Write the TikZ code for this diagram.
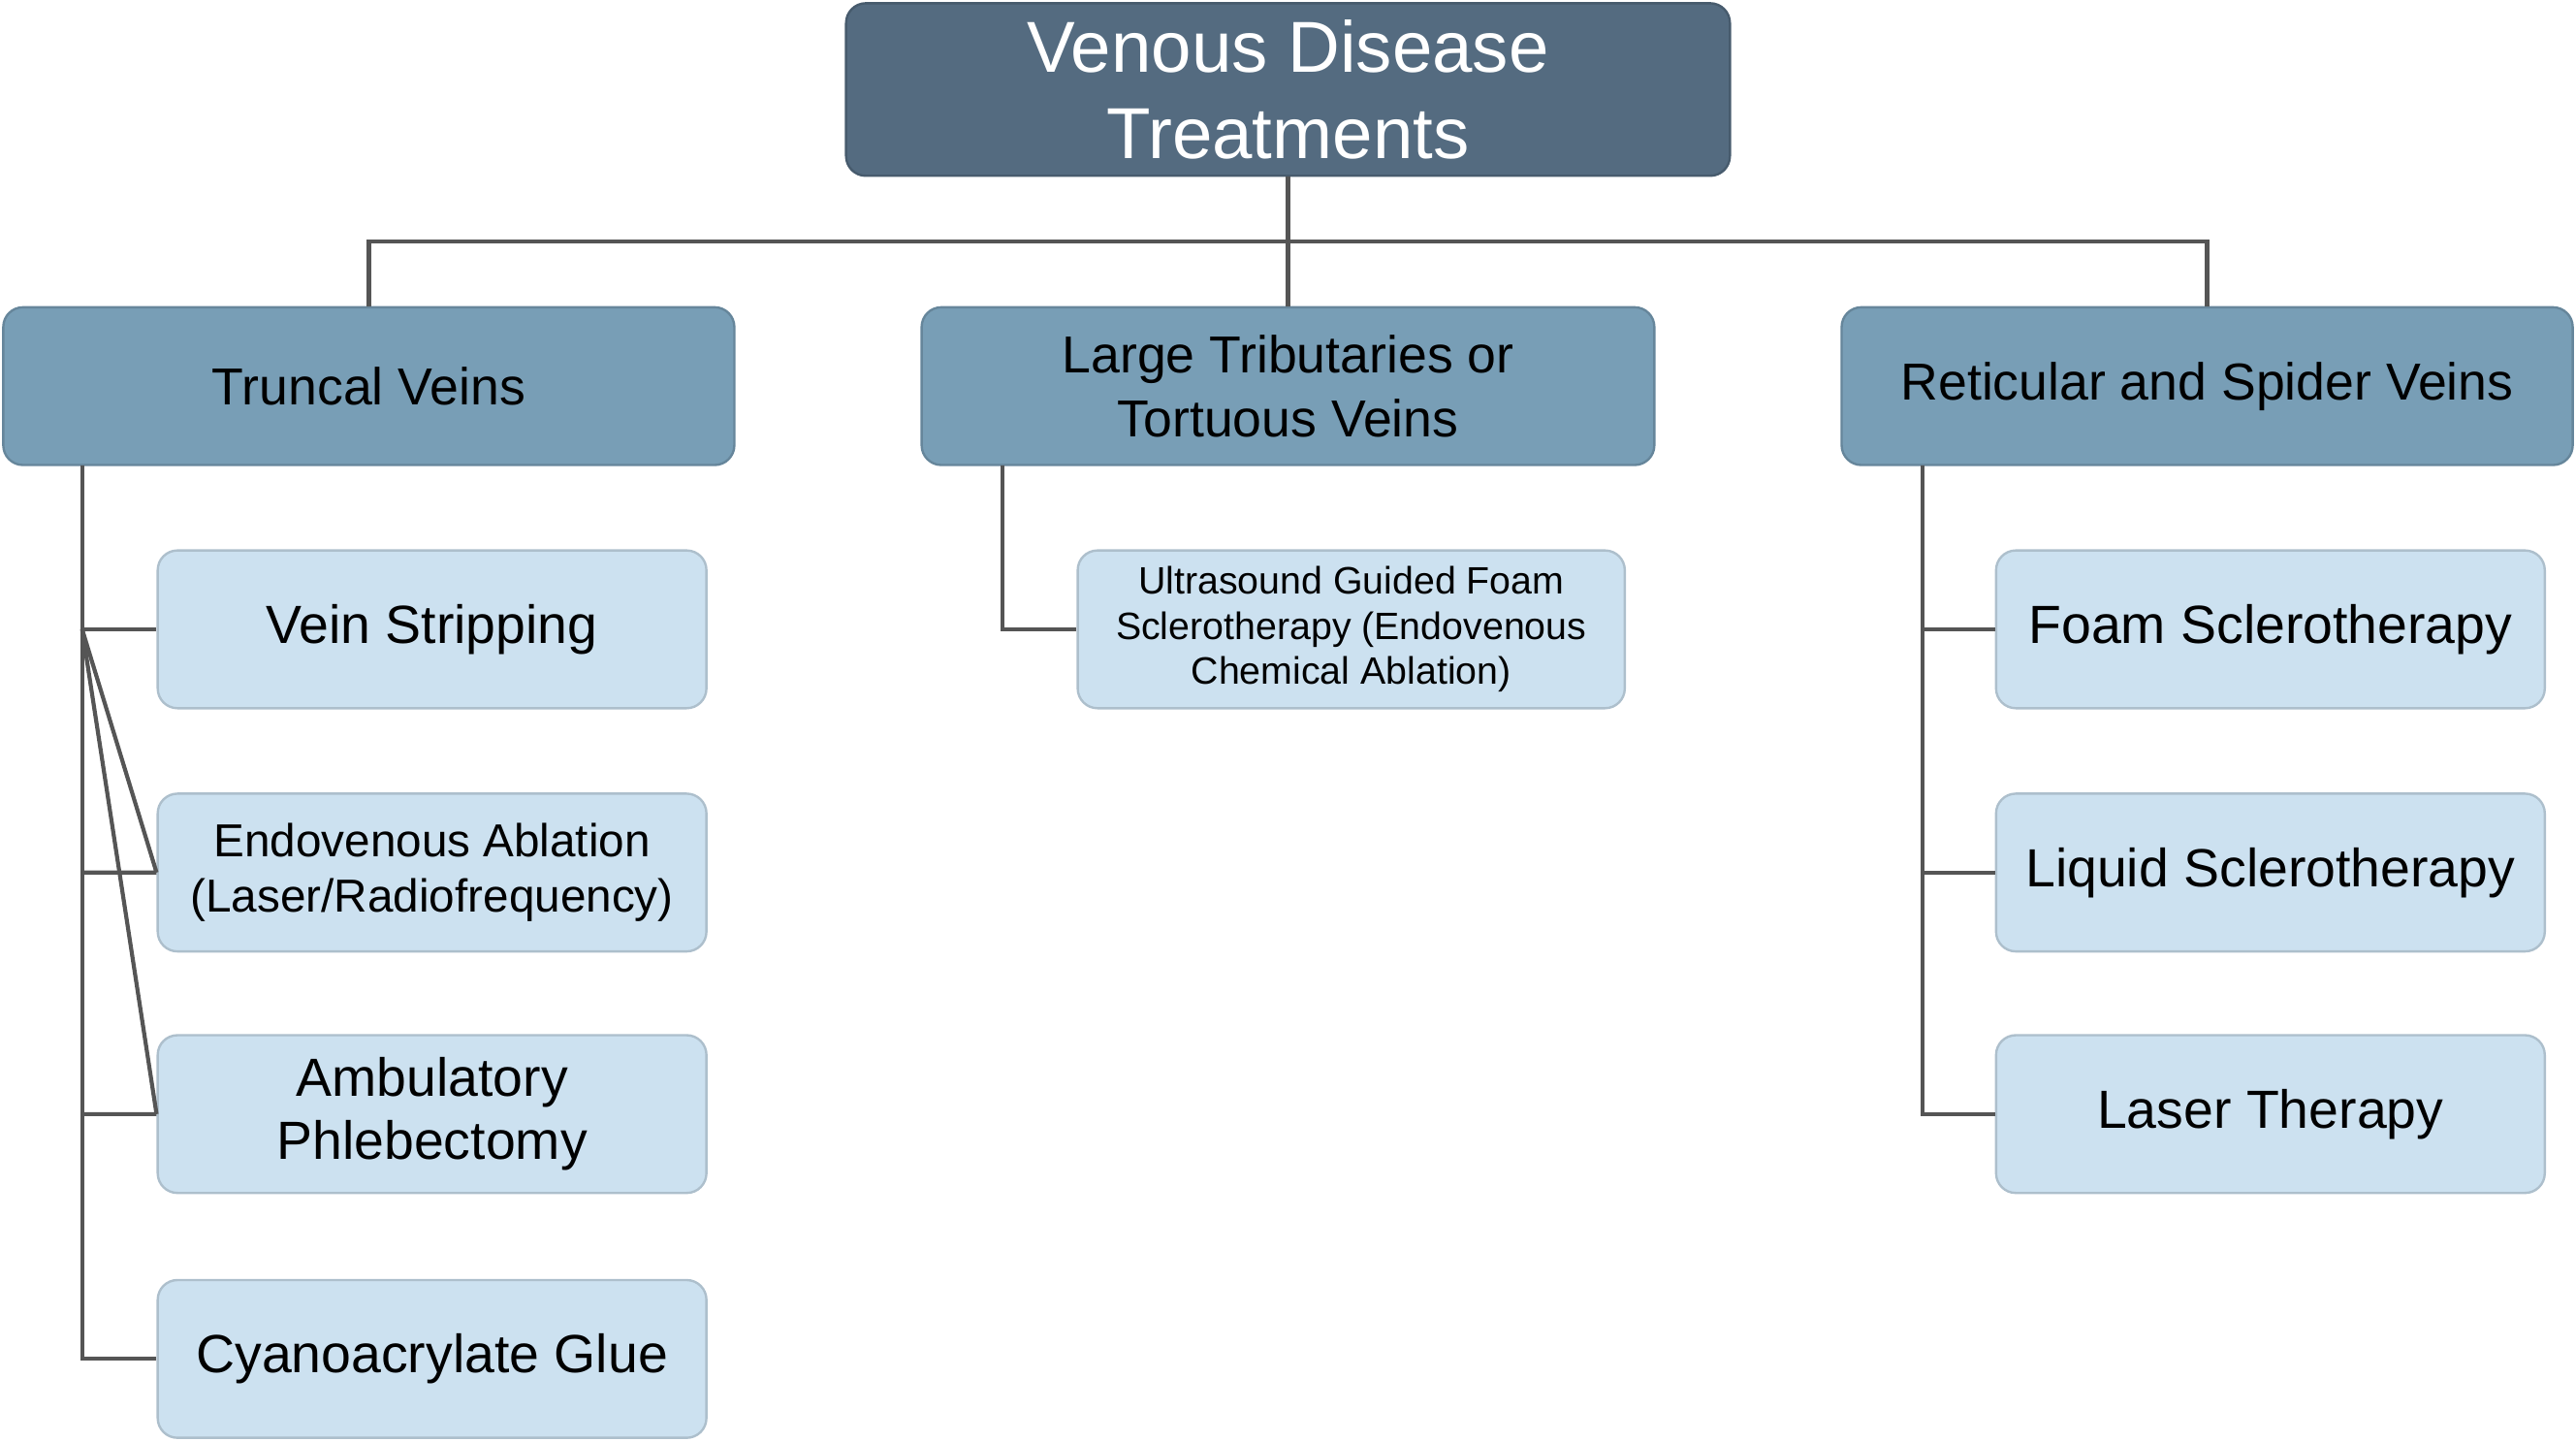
\documentclass[tikz,border=0pt]{standalone}
\usepackage{fontspec}
\setmainfont{Liberation Sans}
\definecolor{topc}{HTML}{546B80}
\definecolor{midc}{HTML}{789EB6}
\definecolor{leafc}{HTML}{CCE1F0}
\definecolor{linec}{HTML}{555555}
\begin{document}
\begin{tikzpicture}[x=0.01cm,y=-0.01cm,
  box/.style={rounded corners=0.12cm,draw=#1!85!black,line width=0.4pt,fill=#1,inner sep=0pt,align=center},
  conn/.style={draw=linec,line width=0.7pt}]
\useasboundingbox (0,0) rectangle (1568,877);
\newcommand\bx[6]{\node[box=#5,minimum width={(#3-#1)*0.01cm},minimum height={(#4-#2)*0.01cm}] (#6) at ({(#1+#3)/2},{(#2+#4)/2}) {};}
\bx{515}{2}{1053}{107}{topc}{t}
\node[text=white,font=\fontsize{12.5pt}{15pt}\selectfont,align=center] at (t) {Venous Disease\\Treatments};
\bx{2}{187}{447}{283}{midc}{a}
\bx{561}{187}{1007}{283}{midc}{b}
\bx{1121}{187}{1566}{283}{midc}{c}
\node[font=\fontsize{9pt}{11pt}\selectfont,align=center] at (a) {Truncal Veins};
\node[font=\fontsize{9pt}{11pt}\selectfont,align=center] at (b) {Large Tributaries or\\Tortuous Veins};
\node[font=\fontsize{9pt}{11pt}\selectfont,align=center] at (c) {Reticular and Spider Veins};
\bx{96}{335}{430}{431}{leafc}{a1}
\bx{96}{483}{430}{579}{leafc}{a2}
\bx{96}{630}{430}{726}{leafc}{a3}
\bx{96}{779}{430}{875}{leafc}{a4}
\bx{656}{335}{989}{431}{leafc}{b1}
\bx{1215}{335}{1549}{431}{leafc}{c1}
\bx{1215}{483}{1549}{579}{leafc}{c2}
\bx{1215}{630}{1549}{726}{leafc}{c3}
\tikzset{lf/.style={font=\fontsize{9.3pt}{11pt}\selectfont,align=center}}
\node[lf] at (a1) {Vein Stripping};
\node[lf,font=\fontsize{8pt}{9.6pt}\selectfont] at (a2) {Endovenous Ablation\\(Laser/Radiofrequency)};
\node[lf] at (a3) {Ambulatory\\Phlebectomy};
\node[lf] at (a4) {Cyanoacrylate Glue};
\node[lf,font=\fontsize{6.6pt}{7.8pt}\selectfont] at (b1) {Ultrasound Guided Foam\\Sclerotherapy (Endovenous\\Chemical Ablation)};
\node[lf] at (c1) {Foam Sclerotherapy};
\node[lf] at (c2) {Liquid Sclerotherapy};
\node[lf] at (c3) {Laser Therapy};
\coordinate (h) at (784,147);
\draw[conn] (t.south) -- (h);
\draw[conn] (a.north) |- (h) -| (c.north);
\draw[conn] (h) -- (b.north);
\coordinate (ta) at (50,283); \coordinate (tb) at (610,283); \coordinate (tc) at (1170,283);
\draw[conn] (ta) |- (a4.west);
\foreach \n in {a1,a2,a3} \draw[conn] (a1.west -| ta) -- (\n.west) (\n.west -| ta) -- (\n.west);
\draw[conn] (tb) |- (b1.west);
\draw[conn] (tc) |- (c3.west);
\foreach \n in {c1,c2} \draw[conn] (\n.west -| tc) -- (\n.west);
\end{tikzpicture}
\end{document}
